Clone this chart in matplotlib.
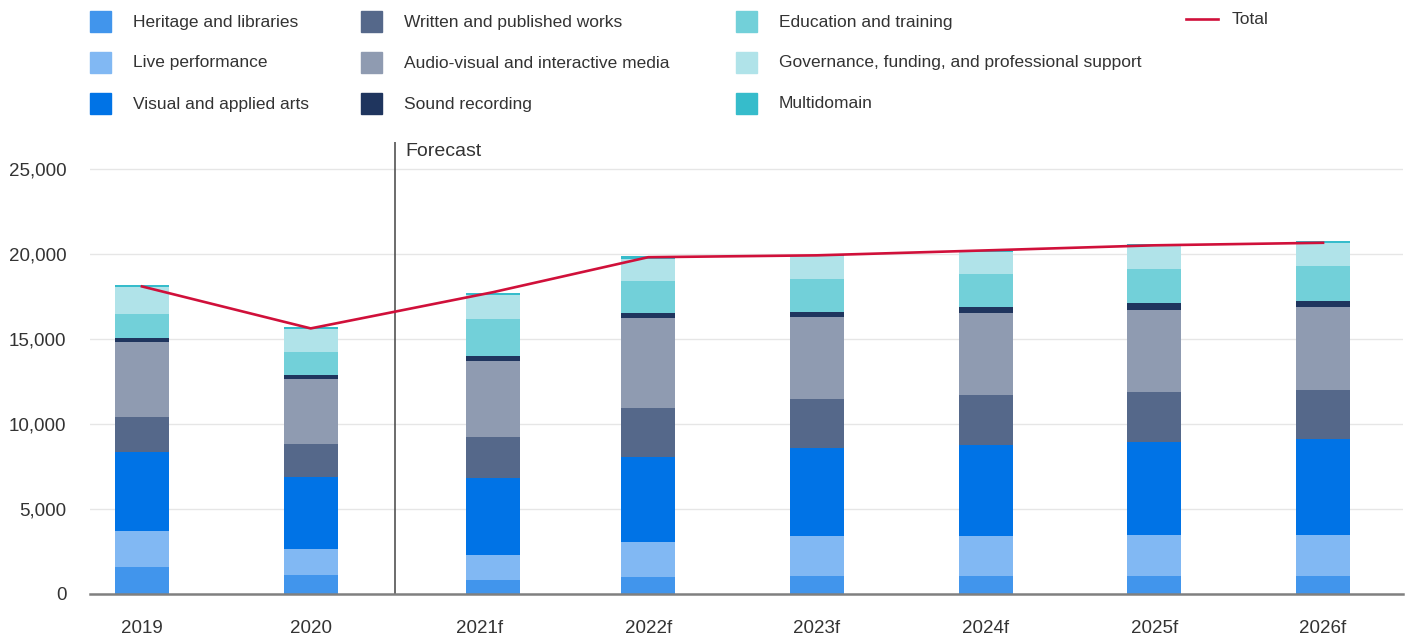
import numpy as np
import matplotlib
matplotlib.use("Agg")
import matplotlib.pyplot as plt
from matplotlib.patches import Rectangle
from matplotlib.lines import Line2D

plt.rcParams['font.family'] = ['Liberation Sans', 'DejaVu Sans']

years = ['2019', '2020', '2021f', '2022f', '2023f', '2024f', '2025f', '2026f']

heritage = [1600, 1140, 820, 1000, 1060, 1060, 1060, 1060]
live = [2120, 1530, 1470, 2060, 2350, 2350, 2410, 2410]
visual = [4650, 4215, 4550, 5000, 5180, 5350, 5470, 5650]
written = [2060, 1960, 2390, 2880, 2880, 2940, 2940, 2880]
audiovisual = [4390, 3800, 4470, 5290, 4820, 4820, 4820, 4880]
sound = [250, 235, 295, 295, 295, 350, 410, 350]
education = [1410, 1350, 2175, 1880, 1940, 1940, 2000, 2060]
governance = [1590, 1370, 1410, 1310, 1350, 1290, 1350, 1350]
multidomain = [100, 100, 120, 160, 80, 80, 120, 120]
total = [18100, 15630, 17760, 19820, 19930, 20220, 20520, 20670]

series = [
    ("Heritage and libraries", heritage, "#4195ec"),
    ("Live performance", live, "#81b8f3"),
    ("Visual and applied arts", visual, "#0073e6"),
    ("Written and published works", written, "#55688a"),
    ("Audio-visual and interactive media", audiovisual, "#8f9bb1"),
    ("Sound recording", sound, "#1f355e"),
    ("Education and training", education, "#72d0d9"),
    ("Governance, funding, and professional support", governance, "#b0e3e9"),
    ("Multidomain", multidomain, "#36bccb"),
]

text_col = "#333333"

fig = plt.figure(figsize=(14.08, 6.36), dpi=100)
ax = fig.add_axes([90 / 1408, 42 / 636, 1313 / 1408, 452 / 636])

x = np.arange(len(years), dtype=float)
bar_x = x.copy()
bar_x[2] += 0.08  # first forecast bar sits a bit right of its label

bottom = np.zeros(len(years))
for name, vals, col in series:
    ax.bar(bar_x, vals, width=0.32, bottom=bottom, color=col, zorder=2)
    bottom += np.array(vals)

ax.plot(bar_x, total, color="#d0103a", linewidth=1.9, zorder=3)

# forecast divider
ax.axvline(1.5, ymin=0, ymax=1, color="#444444", linewidth=1.1, zorder=1)
ax.text(1.56, 26050, "Forecast", fontsize=14, color=text_col, va="center", ha="left")

ax.set_xlim(-0.308, 7.474)
ax.set_ylim(0, 26600)
ax.set_yticks([0, 5000, 10000, 15000, 20000, 25000])
ax.set_yticklabels(["0", "5,000", "10,000", "15,000", "20,000", "25,000"])
ax.set_xticks(x)
ax.set_xticklabels(years)
ax.tick_params(length=0, labelsize=13.5, colors=text_col)
ax.tick_params(axis='y', pad=17)
ax.tick_params(axis='x', pad=19)
ax.grid(axis='y', color="#e6e6e6", linewidth=1, zorder=0)
ax.set_axisbelow(True)
for s in ["top", "right", "left"]:
    ax.spines[s].set_visible(False)
ax.spines["bottom"].set_color("#808080")
ax.spines["bottom"].set_linewidth(1.8)
ax.spines["bottom"].set_zorder(4)

# legend laid out in three columns plus the total line
col_x = [90, 361, 736]
row_y = [22, 63, 104]
for i, (name, vals, col) in enumerate(series):
    cx = col_x[i // 3]
    cy = row_y[i % 3]
    fig.add_artist(Rectangle((cx / 1408, 1 - (cy + 10) / 636), 21 / 1408, 21 / 636,
                             transform=fig.transFigure, color=col))
    fig.text((cx + 43) / 1408, 1 - cy / 636, name, fontsize=12.5, color=text_col,
             va="center", ha="left")

fig.add_artist(Line2D([1186 / 1408, 1218 / 1408], [1 - 19 / 636, 1 - 19 / 636],
                      transform=fig.transFigure, color="#d0103a", linewidth=1.9))
fig.text(1232 / 1408, 1 - 19 / 636, "Total", fontsize=12.5, color=text_col,
         va="center", ha="left")

fig.savefig("out.png", dpi=100)
